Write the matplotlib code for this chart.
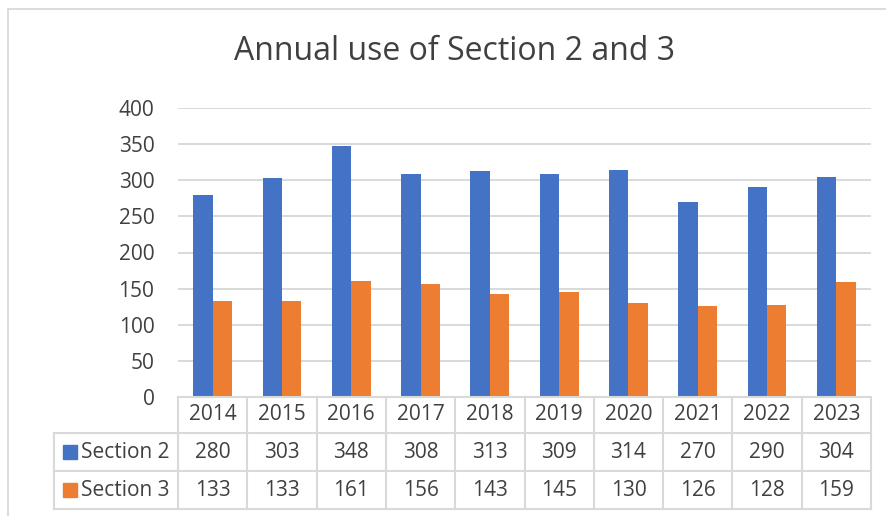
import matplotlib
matplotlib.use("Agg")
import matplotlib.pyplot as plt
import matplotlib.transforms as mtransforms
import numpy as np

# ---------------------------------------------------------------------------
# data
# ---------------------------------------------------------------------------
years = ["2014", "2015", "2016", "2017", "2018", "2019", "2020", "2021", "2022", "2023"]
section_2 = [280, 303, 348, 308, 313, 309, 314, 270, 290, 304]
section_3 = [133, 133, 161, 156, 143, 145, 130, 126, 128, 159]
series_names = ["Section 2", "Section 3"]
y_ticks = [0, 50, 100, 150, 200, 250, 300, 350, 400]

BLUE = "#4472C4"
ORANGE = "#ED7D31"
GRID = "#D9D9D9"
TEXT = "#404040"
FONT = ["Open Sans", "DejaVu Sans"]

W, H = 886, 516
plt.rcParams["font.family"] = FONT

fig = plt.figure(figsize=(W / 100, H / 100), dpi=100)

# plot area in pixel terms
px_l, px_r, px_top, px_bot = 178, 871, 108, 397
ax = fig.add_axes([px_l / W, 1 - px_bot / H, (px_r - px_l) / W, (px_bot - px_top) / H])

# outer chart border (left and top visible)
fig.add_artist(plt.Line2D([8 / W, 8 / W], [0, 1 - 9 / H], color=GRID, lw=1.3,
                          transform=fig.transFigure))
fig.add_artist(plt.Line2D([8 / W, 1], [1 - 9 / H, 1 - 9 / H], color=GRID, lw=1.3,
                          transform=fig.transFigure))

x = np.arange(len(years))
bw = 0.28
ax.bar(x - bw / 2, section_2, width=bw, color=BLUE, zorder=3)
ax.bar(x + bw / 2, section_3, width=bw, color=ORANGE, zorder=3)

ax.set_xlim(-0.5, len(years) - 0.5)
ax.set_ylim(0, 400)
ax.set_yticks(y_ticks)
ax.set_yticklabels([str(t) for t in y_ticks], fontsize=15, color=TEXT)
ax.tick_params(axis="y", length=0, pad=17)
ax.set_xticks([])
ax.grid(axis="y", color=GRID, lw=1.4, zorder=0)
for s in ax.spines.values():
    s.set_visible(False)
ax.axhline(0, color=GRID, lw=1.4, zorder=4)

fig.text(455 / W, 1 - 52 / H, "Annual use of Section 2 and 3", ha="center",
         va="center", fontsize=23, color=TEXT)

# ---------------------------------------------------------------------------
# data table below the axis
# ---------------------------------------------------------------------------
ph = px_bot - px_top
cat_px = (px_r - px_l) / len(years)
row_px = [397, 433, 471, 509]
row_y = [-(r - px_bot) / ph for r in row_px]
trans = mtransforms.blended_transform_factory(ax.transData, ax.transAxes)
lab_left = -0.5 - (px_l - 54) / cat_px
line_kw = dict(color=GRID, lw=1.5, transform=trans, clip_on=False, zorder=5)

# horizontal lines
for i, yy in enumerate(row_y):
    x0 = -0.5 if i == 0 else lab_left
    ax.add_line(plt.Line2D([x0, len(years) - 0.5], [yy, yy], **line_kw))
# vertical lines
for k in range(len(years) + 1):
    ax.add_line(plt.Line2D([k - 0.5, k - 0.5], [row_y[0], row_y[-1]], **line_kw))
ax.add_line(plt.Line2D([lab_left, lab_left], [row_y[1], row_y[-1]], **line_kw))

cell_fs = 15
sq_w = 14 / cat_px
sq_h = 14 / ph
for i, yr in enumerate(years):
    ax.text(i, (row_y[0] + row_y[1]) / 2, yr, ha="center", va="center",
            fontsize=cell_fs, color=TEXT, transform=trans, clip_on=False)
for r, (name, vals, col) in enumerate(zip(series_names, [section_2, section_3],
                                          [BLUE, ORANGE])):
    yc = (row_y[r + 1] + row_y[r + 2]) / 2
    for i, v in enumerate(vals):
        ax.text(i, yc, str(v), ha="center", va="center", fontsize=cell_fs,
                color=TEXT, transform=trans, clip_on=False)
    sq_x = lab_left + 9 / cat_px
    ax.add_patch(plt.Rectangle((sq_x, yc - sq_h / 2), sq_w, sq_h, color=col,
                               transform=trans, clip_on=False, zorder=6))
    ax.text(lab_left + 27 / cat_px, yc, name, ha="left", va="center",
            fontsize=cell_fs, color=TEXT, transform=trans, clip_on=False)

fig.savefig("out.png", dpi=100, facecolor="white")
